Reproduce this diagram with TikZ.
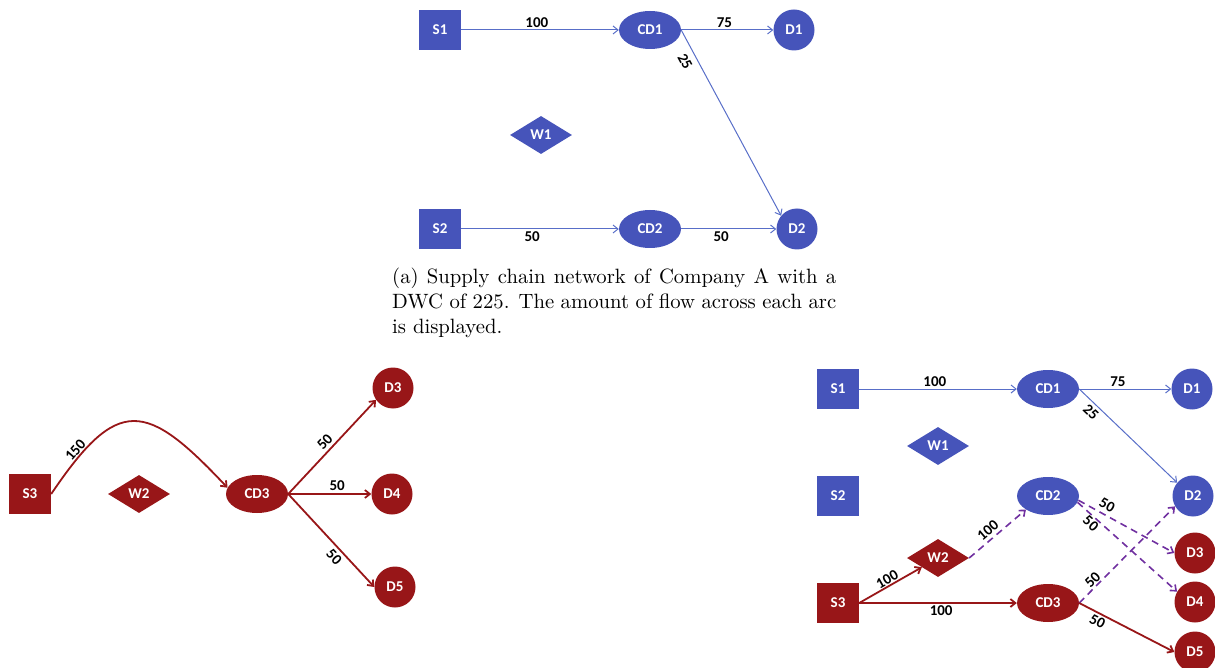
\documentclass[tikz,border=0pt]{standalone}
\usepackage{fontspec}
\newfontfamily\lblfont{Carlito}
\newfontfamily\capfont{lmroman10-regular}[Extension=.otf]
\usetikzlibrary{shapes.geometric,arrows.meta}
\definecolor{nblue}{RGB}{70,84,186}
\definecolor{lblue}{RGB}{88,110,200}
\definecolor{nred}{RGB}{152,22,24}
\definecolor{dpurple}{RGB}{112,48,160}
\tikzset{
  base/.style={fill=#1, draw=none, text=white, inner sep=0pt, font=\lblfont\fontsize{15}{18}\selectfont\bfseries},
  sqbox/.style={base=#1, rectangle, minimum width=42pt, minimum height=40pt},
  ellbox/.style={base=#1, ellipse, minimum width=62pt, minimum height=38pt},
  circbox/.style={base=#1, circle, minimum size=41pt},
  diabox/.style={base=#1, diamond, minimum width=62pt, minimum height=38pt},
  tip/.style={-{Straight Barb[length=5pt,width=8pt]}},
  bluearc/.style={tip, draw=lblue, line width=1pt},
  redarc/.style={tip, draw=nred, line width=1.8pt},
  purarc/.style={tip, draw=dpurple, line width=1.6pt, dash pattern=on 7pt off 5pt},
  lab/.style={font=\lblfont\fontsize{15}{18}\selectfont\bfseries, text=black, inner sep=2pt},
}
\begin{document}
\begin{tikzpicture}[x=1pt,y=-1pt]
\useasboundingbox (0,0) rectangle (1215,668);
% ---------- (a) top ----------
\node[sqbox=nblue] (aS1) at (440,30) {S1};
\node[ellbox=nblue] (aCD1) at (650,30) {CD1};
\node[circbox=nblue] (aD1) at (794,30) {D1};
\node[diabox=nblue] (aW1) at (541,135) {W1};
\node[sqbox=nblue] (aS2) at (440,229) {S2};
\node[ellbox=nblue] (aCD2) at (650,229) {CD2};
\node[circbox=nblue] (aD2) at (797,229) {D2};
\draw[bluearc] (aS1) -- node[lab, above, pos=0.48] {100} (aCD1);
\draw[bluearc] (aCD1) -- node[lab, above, pos=0.47] {75} (aD1);
\draw[bluearc] (aCD1.east) -- node[lab, below, sloped, pos=0.14, inner sep=6pt] {25} (aD2.140);
\draw[bluearc] (aS2) -- node[lab, below, pos=0.45] {50} (aCD2);
\draw[bluearc] (aCD2) -- node[lab, below, pos=0.42] {50} (aD2);
\node[anchor=north west, text width=444pt, align=justify, inner sep=0pt,
      font=\capfont\fontsize{20.7}{25}\selectfont] (cap) at (392,268)
  {(a) Supply chain network of Company A with a DWC of 225. The amount of flow across each arc is displayed.};
% ---------- bottom left ----------
\node[sqbox=nred] (bS3) at (30,494) {S3};
\node[diabox=nred] (bW2) at (139,494) {W2};
\node[ellbox=nred] (bCD3) at (257,494) {CD3};
\node[circbox=nred] (bD3) at (393,388) {D3};
\node[circbox=nred] (bD4) at (392,494) {D4};
\node[circbox=nred] (bD5) at (395,587) {D5};
\draw[redarc] (bS3.east) .. controls (118,395) and (146,401) .. node[lab, above, sloped, pos=0.16, inner sep=1pt] {150} (bCD3.168);
\draw[redarc] (bCD3.east) -- node[lab, above, sloped, pos=0.49, inner sep=3pt] {50} (bD3.215);
\draw[redarc] (bCD3.east) -- node[lab, above, pos=0.59] {50} (bD4);
\draw[redarc] (bCD3.east) -- node[lab, below, sloped, pos=0.61, inner sep=3pt] {50} (bD5.west);
% ---------- bottom right ----------
\node[sqbox=nblue] (cS1) at (838,389) {S1};
\node[ellbox=nblue] (cCD1) at (1048,389) {CD1};
\node[circbox=nblue] (cD1) at (1192,389) {D1};
\node[diabox=nblue] (cW1) at (938,446) {W1};
\node[sqbox=nblue] (cS2) at (838,496) {S2};
\node[ellbox=nblue] (cCD2) at (1048,496) {CD2};
\node[circbox=nblue] (cD2) at (1193,496) {D2};
\node[diabox=nred] (cW2) at (938,558) {W2};
\node[circbox=nred] (cD3) at (1195,553) {D3};
\node[sqbox=nred] (cS3) at (838,603) {S3};
\node[ellbox=nred] (cCD3) at (1048,603) {CD3};
\node[circbox=nred] (cD4) at (1195,602) {D4};
\node[circbox=nred] (cD5) at (1195,652) {D5};
\draw[bluearc] (cS1) -- node[lab, above, pos=0.48] {100} (cCD1);
\draw[bluearc] (cCD1) -- node[lab, above, pos=0.42] {75} (cD1);
\draw[bluearc] (cCD1.east) -- node[lab, below, sloped, pos=0.18, inner sep=3pt] {25} (cD2.140);
\draw[redarc] (cS3.east) -- node[lab, above, sloped, pos=0.5, inner sep=1pt] {100} (cW2);
\draw[redarc] (cS3) -- node[lab, below, pos=0.52] {100} (cCD3);
\draw[purarc] (cW2.east) -- node[lab, above, sloped, pos=0.43, inner sep=3pt] {100} (cCD2.south west);
\draw[purarc] (cCD2.-8) -- node[lab, above, sloped, pos=0.25, inner sep=4pt] {50} (cD3.west);
\draw[purarc] (cCD2.-12) -- node[lab, below, sloped, pos=0.18, inner sep=1pt] {50} (cD4.150);
\draw[purarc] (cCD3.east) -- node[lab, above, sloped, pos=0.19, inner sep=1pt] {50} (cD2.210);
\draw[redarc] (cCD3.east) -- node[lab, below, sloped, pos=0.23, inner sep=2pt] {50} (cD5.west);
\end{tikzpicture}
\end{document}
